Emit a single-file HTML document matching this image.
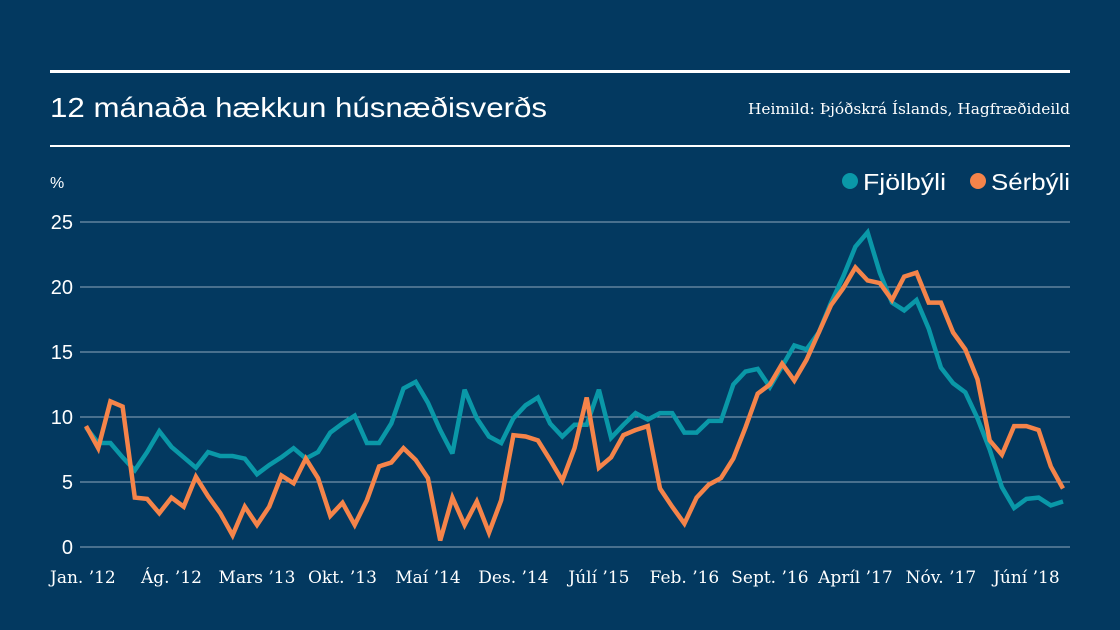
<!DOCTYPE html>
<html><head><meta charset="utf-8">
<style>
html,body{margin:0;padding:0;background:#033960;}
svg{display:block;}
.sans{font-family:"Liberation Sans","DejaVu Sans",sans-serif;}
.serif{font-family:"DejaVu Serif","Liberation Serif",serif;}
</style></head>
<body>
<svg id="chart" width="1120" height="630" viewBox="0 0 1120 630">
  <rect x="0" y="0" width="1120" height="630" fill="#033960"/>
  <rect x="50" y="70" width="1020" height="3" fill="#ffffff"/>
  <text x="50" y="117" class="sans" font-size="28" fill="#ffffff" textLength="497" lengthAdjust="spacingAndGlyphs">12 mánaða hækkun húsnæðisverðs</text>
  <text x="1070" y="114" class="serif" font-size="15" fill="#ffffff" text-anchor="end" textLength="322" lengthAdjust="spacingAndGlyphs">Heimild: Þjóðskrá Íslands, Hagfræðideild</text>
  <rect x="50" y="145" width="1020" height="2" fill="#ffffff"/>
  <text x="50" y="188" class="sans" font-size="16" fill="#ffffff">%</text>
  <g>
    <circle cx="850" cy="181" r="8" fill="#0a98a8"/>
    <text x="863" y="190" class="sans" font-size="23" fill="#ffffff" textLength="83" lengthAdjust="spacingAndGlyphs">Fjölbýli</text>
    <circle cx="978" cy="181" r="8" fill="#f5844a"/>
    <text x="991" y="190" class="sans" font-size="23" fill="#ffffff" textLength="79" lengthAdjust="spacingAndGlyphs">Sérbýli</text>
  </g>
  <g id="grid"></g>
  <g id="xlabels"></g>
  <g id="series"></g>
</svg>
<script>
const yTicks = [0, 5, 10, 15, 20, 25];
const xTickIdx = [0, 7, 14, 21, 28, 35, 42, 49, 56, 63, 70, 77];
const xTickLabels = ["Jan. \u201912","Ág. \u201912","Mars \u201913","Okt. \u201913","Maí \u201914","Des. \u201914","Júlí \u201915","Feb. \u201916","Sept. \u201916","Apríl \u201917","Nóv. \u201917","Júní \u201918"];
const fjolbyli = [9.2,8.0,8.0,6.9,5.9,7.3,8.9,7.7,6.9,6.1,7.3,7.0,7.0,6.8,5.6,6.3,6.9,7.6,6.8,7.3,8.8,9.5,10.1,8.0,8.0,9.5,12.2,12.7,11.1,9.0,7.2,12.1,9.9,8.5,8.0,9.9,10.9,11.5,9.5,8.5,9.4,9.4,12.1,8.4,9.4,10.3,9.8,10.3,10.3,8.8,8.8,9.7,9.7,12.5,13.5,13.7,12.3,13.9,15.5,15.2,16.5,18.8,20.8,23.1,24.2,21.1,18.8,18.2,19.0,16.8,13.8,12.6,11.9,9.9,7.5,4.6,3.0,3.7,3.8,3.2,3.5];
const serbyli = [9.3,7.6,11.2,10.8,3.8,3.7,2.6,3.8,3.1,5.4,3.9,2.6,0.9,3.1,1.7,3.1,5.5,4.9,6.8,5.3,2.4,3.4,1.7,3.6,6.2,6.5,7.6,6.7,5.3,0.5,3.8,1.7,3.5,1.1,3.6,8.6,8.5,8.2,6.7,5.1,7.6,11.5,6.1,6.9,8.6,9.0,9.3,4.5,3.1,1.8,3.8,4.8,5.3,6.8,9.2,11.8,12.5,14.1,12.8,14.4,16.5,18.6,19.9,21.5,20.5,20.3,19.0,20.8,21.1,18.8,18.8,16.5,15.2,12.9,8.2,7.1,9.3,9.3,9.0,6.2,4.5];

const NS = "http://www.w3.org/2000/svg";
const X0 = 86, X1 = 1063, Y0 = 547, Y25 = 222;
const nPts = serbyli.length;
function xs(i){ return X0 + i * (X1 - X0) / (nPts - 1); }
function ys(v){ return Y0 - v * (Y0 - Y25) / 25; }

const grid = document.getElementById('grid');
yTicks.forEach(t => {
  const l = document.createElementNS(NS, 'line');
  l.setAttribute('x1', 80); l.setAttribute('x2', 1070);
  l.setAttribute('y1', ys(t)); l.setAttribute('y2', ys(t));
  l.setAttribute('stroke', '#8fa6bd'); l.setAttribute('stroke-width', 1);
  
  
  grid.appendChild(l);
  const tx = document.createElementNS(NS, 'text');
  tx.setAttribute('x', 73); tx.setAttribute('y', ys(t) + 7);
  tx.setAttribute('text-anchor', 'end');
  tx.setAttribute('class', 'sans'); tx.setAttribute('font-size', '20'); tx.setAttribute('fill', '#ffffff');
  tx.textContent = t;
  
  
  grid.appendChild(tx);
});

const xl = document.getElementById('xlabels');
xTickIdx.forEach((idx, k) => {
  const tx = document.createElementNS(NS, 'text');
  if (k === 0) { tx.setAttribute('x', 50); tx.setAttribute('text-anchor', 'start'); }
  else { tx.setAttribute('x', xs(idx)); tx.setAttribute('text-anchor', 'middle'); }
  tx.setAttribute('y', 583);
  tx.setAttribute('class', 'serif'); tx.setAttribute('font-size', '17'); tx.setAttribute('fill', '#ffffff');
  tx.textContent = xTickLabels[k];
  
  
  xl.appendChild(tx);
});

const sg = document.getElementById('series');
function drawLine(vals, color, name){
  const p = document.createElementNS(NS, 'polyline');
  p.setAttribute('points', vals.map((v, i) => xs(i).toFixed(1) + ',' + ys(v).toFixed(1)).join(' '));
  p.setAttribute('fill', 'none'); p.setAttribute('stroke', color);
  p.setAttribute('stroke-width', 4.5); p.setAttribute('stroke-linejoin', 'miter'); p.setAttribute('stroke-miterlimit', '3');
  
  
  sg.appendChild(p);
}
drawLine(fjolbyli, '#0a98a8', 'line-fjolbyli');
drawLine(serbyli, '#f5844a', 'line-serbyli');
</script>
</body></html>
